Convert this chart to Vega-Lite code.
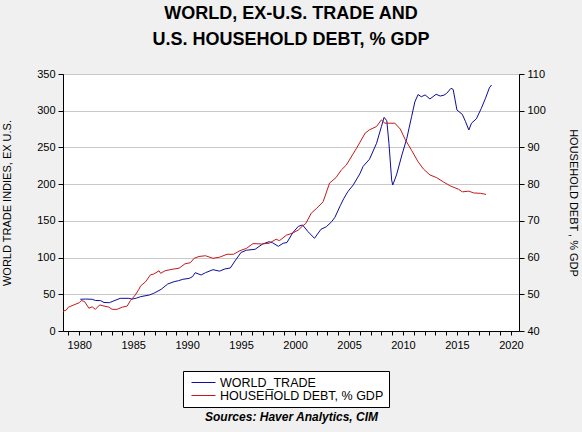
{
  "$schema": "https://vega.github.io/schema/vega-lite/v6.json",
  "width": 456,
  "height": 257,
  "autosize": {"type": "none"},
  "padding": {"left": 63, "top": 74, "right": 63, "bottom": 101},
  "background": "#f0f0f0",
  "title": {
    "text": ["WORLD, EX-U.S. TRADE AND", "U.S. HOUSEHOLD DEBT, % GDP"],
    "anchor": "middle",
    "frame": "group",
    "font": "Liberation Sans",
    "fontSize": 18,
    "fontWeight": "bold",
    "lineHeight": 26,
    "color": "#000000",
    "offset": 19
  },
  "data": {
    "values": [
      {"series": "WORLD_TRADE", "year": 1980.1, "value": 43.2},
      {"series": "WORLD_TRADE", "year": 1980.6, "value": 43.5},
      {"series": "WORLD_TRADE", "year": 1981.2, "value": 43.2},
      {"series": "WORLD_TRADE", "year": 1981.5, "value": 41.6},
      {"series": "WORLD_TRADE", "year": 1982.0, "value": 41.3},
      {"series": "WORLD_TRADE", "year": 1982.3, "value": 38.8},
      {"series": "WORLD_TRADE", "year": 1982.8, "value": 38.6},
      {"series": "WORLD_TRADE", "year": 1983.2, "value": 41.0},
      {"series": "WORLD_TRADE", "year": 1983.8, "value": 44.5},
      {"series": "WORLD_TRADE", "year": 1984.6, "value": 44.5},
      {"series": "WORLD_TRADE", "year": 1984.9, "value": 43.4},
      {"series": "WORLD_TRADE", "year": 1985.3, "value": 44.8},
      {"series": "WORLD_TRADE", "year": 1985.7, "value": 46.8},
      {"series": "WORLD_TRADE", "year": 1986.5, "value": 49.0},
      {"series": "WORLD_TRADE", "year": 1986.9, "value": 51.3},
      {"series": "WORLD_TRADE", "year": 1987.6, "value": 56.8},
      {"series": "WORLD_TRADE", "year": 1988.2, "value": 64.0},
      {"series": "WORLD_TRADE", "year": 1988.8, "value": 67.2},
      {"series": "WORLD_TRADE", "year": 1989.2, "value": 68.5},
      {"series": "WORLD_TRADE", "year": 1989.6, "value": 70.4},
      {"series": "WORLD_TRADE", "year": 1990.2, "value": 71.7},
      {"series": "WORLD_TRADE", "year": 1990.5, "value": 74.0},
      {"series": "WORLD_TRADE", "year": 1990.75, "value": 79.4},
      {"series": "WORLD_TRADE", "year": 1991.3, "value": 76.3},
      {"series": "WORLD_TRADE", "year": 1991.7, "value": 79.4},
      {"series": "WORLD_TRADE", "year": 1992.4, "value": 83.5},
      {"series": "WORLD_TRADE", "year": 1993.0, "value": 81.5},
      {"series": "WORLD_TRADE", "year": 1993.5, "value": 84.5},
      {"series": "WORLD_TRADE", "year": 1994.0, "value": 85.8},
      {"series": "WORLD_TRADE", "year": 1994.5, "value": 96.7},
      {"series": "WORLD_TRADE", "year": 1995.0, "value": 107.0},
      {"series": "WORLD_TRADE", "year": 1995.5, "value": 110.0},
      {"series": "WORLD_TRADE", "year": 1996.3, "value": 111.3},
      {"series": "WORLD_TRADE", "year": 1997.0, "value": 118.5},
      {"series": "WORLD_TRADE", "year": 1997.6, "value": 121.6},
      {"series": "WORLD_TRADE", "year": 1997.9, "value": 120.3},
      {"series": "WORLD_TRADE", "year": 1998.45, "value": 115.3},
      {"series": "WORLD_TRADE", "year": 1998.9, "value": 119.5},
      {"series": "WORLD_TRADE", "year": 1999.25, "value": 120.5},
      {"series": "WORLD_TRADE", "year": 1999.8, "value": 134.0},
      {"series": "WORLD_TRADE", "year": 2000.3, "value": 142.5},
      {"series": "WORLD_TRADE", "year": 2000.7, "value": 144.4},
      {"series": "WORLD_TRADE", "year": 2001.2, "value": 135.3},
      {"series": "WORLD_TRADE", "year": 2001.8, "value": 126.2},
      {"series": "WORLD_TRADE", "year": 2002.4, "value": 138.5},
      {"series": "WORLD_TRADE", "year": 2002.9, "value": 142.0},
      {"series": "WORLD_TRADE", "year": 2003.4, "value": 149.0},
      {"series": "WORLD_TRADE", "year": 2003.7, "value": 155.0},
      {"series": "WORLD_TRADE", "year": 2004.2, "value": 171.0},
      {"series": "WORLD_TRADE", "year": 2004.5, "value": 180.0},
      {"series": "WORLD_TRADE", "year": 2004.9, "value": 190.0},
      {"series": "WORLD_TRADE", "year": 2005.4, "value": 199.0},
      {"series": "WORLD_TRADE", "year": 2006.0, "value": 214.0},
      {"series": "WORLD_TRADE", "year": 2006.3, "value": 224.0},
      {"series": "WORLD_TRADE", "year": 2006.9, "value": 234.0},
      {"series": "WORLD_TRADE", "year": 2007.55, "value": 255.6},
      {"series": "WORLD_TRADE", "year": 2008.0, "value": 278.3},
      {"series": "WORLD_TRADE", "year": 2008.25, "value": 291.0},
      {"series": "WORLD_TRADE", "year": 2008.5, "value": 286.4},
      {"series": "WORLD_TRADE", "year": 2008.7, "value": 255.6},
      {"series": "WORLD_TRADE", "year": 2008.95, "value": 205.7},
      {"series": "WORLD_TRADE", "year": 2009.05, "value": 198.8},
      {"series": "WORLD_TRADE", "year": 2009.4, "value": 212.5},
      {"series": "WORLD_TRADE", "year": 2009.9, "value": 239.7},
      {"series": "WORLD_TRADE", "year": 2010.35, "value": 262.0},
      {"series": "WORLD_TRADE", "year": 2010.8, "value": 292.0},
      {"series": "WORLD_TRADE", "year": 2011.1, "value": 312.0},
      {"series": "WORLD_TRADE", "year": 2011.4, "value": 322.0},
      {"series": "WORLD_TRADE", "year": 2011.7, "value": 319.0},
      {"series": "WORLD_TRADE", "year": 2012.05, "value": 321.5},
      {"series": "WORLD_TRADE", "year": 2012.5, "value": 316.0},
      {"series": "WORLD_TRADE", "year": 2013.07, "value": 322.4},
      {"series": "WORLD_TRADE", "year": 2013.45, "value": 320.0},
      {"series": "WORLD_TRADE", "year": 2013.8, "value": 321.2},
      {"series": "WORLD_TRADE", "year": 2014.05, "value": 323.7},
      {"series": "WORLD_TRADE", "year": 2014.45, "value": 330.5},
      {"series": "WORLD_TRADE", "year": 2014.65, "value": 329.0},
      {"series": "WORLD_TRADE", "year": 2015.0, "value": 301.0},
      {"series": "WORLD_TRADE", "year": 2015.5, "value": 295.0},
      {"series": "WORLD_TRADE", "year": 2015.8, "value": 285.0},
      {"series": "WORLD_TRADE", "year": 2016.1, "value": 273.8},
      {"series": "WORLD_TRADE", "year": 2016.35, "value": 283.0},
      {"series": "WORLD_TRADE", "year": 2016.8, "value": 289.0},
      {"series": "WORLD_TRADE", "year": 2017.25, "value": 303.0},
      {"series": "WORLD_TRADE", "year": 2017.65, "value": 317.0},
      {"series": "WORLD_TRADE", "year": 2018.0, "value": 331.0},
      {"series": "WORLD_TRADE", "year": 2018.2, "value": 335.0},
      {"series": "HOUSEHOLD DEBT, % GDP", "year": 1978.5, "value": 45.4},
      {"series": "HOUSEHOLD DEBT, % GDP", "year": 1978.8, "value": 45.7},
      {"series": "HOUSEHOLD DEBT, % GDP", "year": 1979.0, "value": 46.5},
      {"series": "HOUSEHOLD DEBT, % GDP", "year": 1979.5, "value": 47.1},
      {"series": "HOUSEHOLD DEBT, % GDP", "year": 1980.0, "value": 47.7},
      {"series": "HOUSEHOLD DEBT, % GDP", "year": 1980.2, "value": 48.3},
      {"series": "HOUSEHOLD DEBT, % GDP", "year": 1980.5, "value": 48.0},
      {"series": "HOUSEHOLD DEBT, % GDP", "year": 1980.9, "value": 46.2},
      {"series": "HOUSEHOLD DEBT, % GDP", "year": 1981.2, "value": 46.6},
      {"series": "HOUSEHOLD DEBT, % GDP", "year": 1981.5, "value": 45.9},
      {"series": "HOUSEHOLD DEBT, % GDP", "year": 1981.9, "value": 47.1},
      {"series": "HOUSEHOLD DEBT, % GDP", "year": 1982.3, "value": 46.8},
      {"series": "HOUSEHOLD DEBT, % GDP", "year": 1982.75, "value": 46.5},
      {"series": "HOUSEHOLD DEBT, % GDP", "year": 1983.05, "value": 45.9},
      {"series": "HOUSEHOLD DEBT, % GDP", "year": 1983.5, "value": 45.9},
      {"series": "HOUSEHOLD DEBT, % GDP", "year": 1984.0, "value": 46.5},
      {"series": "HOUSEHOLD DEBT, % GDP", "year": 1984.45, "value": 46.8},
      {"series": "HOUSEHOLD DEBT, % GDP", "year": 1984.75, "value": 48.3},
      {"series": "HOUSEHOLD DEBT, % GDP", "year": 1985.2, "value": 49.8},
      {"series": "HOUSEHOLD DEBT, % GDP", "year": 1985.5, "value": 51.2},
      {"series": "HOUSEHOLD DEBT, % GDP", "year": 1985.7, "value": 52.3},
      {"series": "HOUSEHOLD DEBT, % GDP", "year": 1986.15, "value": 53.4},
      {"series": "HOUSEHOLD DEBT, % GDP", "year": 1986.6, "value": 55.3},
      {"series": "HOUSEHOLD DEBT, % GDP", "year": 1986.9, "value": 55.5},
      {"series": "HOUSEHOLD DEBT, % GDP", "year": 1987.4, "value": 56.4},
      {"series": "HOUSEHOLD DEBT, % GDP", "year": 1987.55, "value": 55.7},
      {"series": "HOUSEHOLD DEBT, % GDP", "year": 1987.95, "value": 56.4},
      {"series": "HOUSEHOLD DEBT, % GDP", "year": 1988.6, "value": 56.8},
      {"series": "HOUSEHOLD DEBT, % GDP", "year": 1989.25, "value": 57.1},
      {"series": "HOUSEHOLD DEBT, % GDP", "year": 1989.8, "value": 58.3},
      {"series": "HOUSEHOLD DEBT, % GDP", "year": 1990.3, "value": 58.6},
      {"series": "HOUSEHOLD DEBT, % GDP", "year": 1990.65, "value": 59.8},
      {"series": "HOUSEHOLD DEBT, % GDP", "year": 1991.1, "value": 60.3},
      {"series": "HOUSEHOLD DEBT, % GDP", "year": 1991.7, "value": 60.5},
      {"series": "HOUSEHOLD DEBT, % GDP", "year": 1992.4, "value": 59.8},
      {"series": "HOUSEHOLD DEBT, % GDP", "year": 1993.0, "value": 60.1},
      {"series": "HOUSEHOLD DEBT, % GDP", "year": 1993.7, "value": 60.9},
      {"series": "HOUSEHOLD DEBT, % GDP", "year": 1994.3, "value": 60.9},
      {"series": "HOUSEHOLD DEBT, % GDP", "year": 1994.9, "value": 61.9},
      {"series": "HOUSEHOLD DEBT, % GDP", "year": 1995.5, "value": 62.5},
      {"series": "HOUSEHOLD DEBT, % GDP", "year": 1996.1, "value": 63.8},
      {"series": "HOUSEHOLD DEBT, % GDP", "year": 1996.9, "value": 63.7},
      {"series": "HOUSEHOLD DEBT, % GDP", "year": 1997.6, "value": 63.9},
      {"series": "HOUSEHOLD DEBT, % GDP", "year": 1998.25, "value": 65.0},
      {"series": "HOUSEHOLD DEBT, % GDP", "year": 1998.55, "value": 64.6},
      {"series": "HOUSEHOLD DEBT, % GDP", "year": 1999.2, "value": 66.1},
      {"series": "HOUSEHOLD DEBT, % GDP", "year": 1999.8, "value": 66.7},
      {"series": "HOUSEHOLD DEBT, % GDP", "year": 2000.3, "value": 67.5},
      {"series": "HOUSEHOLD DEBT, % GDP", "year": 2000.7, "value": 68.6},
      {"series": "HOUSEHOLD DEBT, % GDP", "year": 2001.0, "value": 69.3},
      {"series": "HOUSEHOLD DEBT, % GDP", "year": 2001.5, "value": 72.1},
      {"series": "HOUSEHOLD DEBT, % GDP", "year": 2002.0, "value": 73.4},
      {"series": "HOUSEHOLD DEBT, % GDP", "year": 2002.6, "value": 75.2},
      {"series": "HOUSEHOLD DEBT, % GDP", "year": 2003.2, "value": 80.3},
      {"series": "HOUSEHOLD DEBT, % GDP", "year": 2003.8, "value": 81.8},
      {"series": "HOUSEHOLD DEBT, % GDP", "year": 2004.3, "value": 83.9},
      {"series": "HOUSEHOLD DEBT, % GDP", "year": 2004.75, "value": 85.2},
      {"series": "HOUSEHOLD DEBT, % GDP", "year": 2005.7, "value": 89.8},
      {"series": "HOUSEHOLD DEBT, % GDP", "year": 2006.5, "value": 93.9},
      {"series": "HOUSEHOLD DEBT, % GDP", "year": 2006.9, "value": 94.8},
      {"series": "HOUSEHOLD DEBT, % GDP", "year": 2007.55, "value": 95.7},
      {"series": "HOUSEHOLD DEBT, % GDP", "year": 2008.0, "value": 97.5},
      {"series": "HOUSEHOLD DEBT, % GDP", "year": 2008.2, "value": 97.0},
      {"series": "HOUSEHOLD DEBT, % GDP", "year": 2008.3, "value": 96.6},
      {"series": "HOUSEHOLD DEBT, % GDP", "year": 2009.25, "value": 96.6},
      {"series": "HOUSEHOLD DEBT, % GDP", "year": 2009.75, "value": 95.0},
      {"series": "HOUSEHOLD DEBT, % GDP", "year": 2010.2, "value": 92.2},
      {"series": "HOUSEHOLD DEBT, % GDP", "year": 2010.8, "value": 89.2},
      {"series": "HOUSEHOLD DEBT, % GDP", "year": 2011.4, "value": 86.1},
      {"series": "HOUSEHOLD DEBT, % GDP", "year": 2011.9, "value": 84.1},
      {"series": "HOUSEHOLD DEBT, % GDP", "year": 2012.5, "value": 82.5},
      {"series": "HOUSEHOLD DEBT, % GDP", "year": 2013.1, "value": 81.8},
      {"series": "HOUSEHOLD DEBT, % GDP", "year": 2013.75, "value": 80.6},
      {"series": "HOUSEHOLD DEBT, % GDP", "year": 2014.4, "value": 79.5},
      {"series": "HOUSEHOLD DEBT, % GDP", "year": 2015.15, "value": 78.6},
      {"series": "HOUSEHOLD DEBT, % GDP", "year": 2015.5, "value": 77.9},
      {"series": "HOUSEHOLD DEBT, % GDP", "year": 2016.1, "value": 78.1},
      {"series": "HOUSEHOLD DEBT, % GDP", "year": 2016.55, "value": 77.6},
      {"series": "HOUSEHOLD DEBT, % GDP", "year": 2017.2, "value": 77.5},
      {"series": "HOUSEHOLD DEBT, % GDP", "year": 2017.7, "value": 77.2}
    ]
  },
  "encoding": {
    "x": {
      "field": "year",
      "type": "quantitative",
      "scale": {"domain": [1978.5, 2020.75], "nice": false, "zero": false},
      "axis": {
        "title": "Sources:  Haver Analytics, CIM",
        "titleFont": "Liberation Sans",
        "titleFontSize": 12,
        "titleFontWeight": "bold",
        "titleFontStyle": "italic",
        "titlePadding": 61,
        "grid": false,
        "values": [1979, 1980, 1981, 1982, 1983, 1984, 1985, 1986, 1987, 1988, 1989, 1990, 1991, 1992, 1993, 1994, 1995, 1996, 1997, 1998, 1999, 2000, 2001, 2002, 2003, 2004, 2005, 2006, 2007, 2008, 2009, 2010, 2011, 2012, 2013, 2014, 2015, 2016, 2017, 2018, 2019, 2020],
        "labelExpr": "datum.value % 5 == 0 ? format(datum.value, 'd') : ''",
        "tickSize": 4,
        "labelPadding": 4
      }
    },
    "color": {
      "field": "series",
      "type": "nominal",
      "scale": {
        "domain": ["WORLD_TRADE", "HOUSEHOLD DEBT, % GDP"],
        "range": ["#0c0c9e", "#c41a1a"]
      },
      "legend": {
        "title": null,
        "orient": "none",
        "legendX": 120,
        "legendY": 297,
        "direction": "vertical",
        "symbolType": "M-0.5,0H3.5",
        "symbolSize": 144,
        "symbolStrokeWidth": 1,
        "labelFont": "Liberation Sans",
        "labelFontSize": 12.5,
        "labelColor": "#000000",
        "labelOffset": 19,
        "rowPadding": 0,
        "padding": 5,
        "strokeColor": "#000000",
        "fillColor": "#ffffff",
        "labelLimit": 300
      }
    }
  },
  "layer": [
    {
      "transform": [{"filter": "datum.series == 'WORLD_TRADE'"}],
      "mark": {"type": "line", "strokeWidth": 1},
      "encoding": {
        "y": {
          "field": "value",
          "type": "quantitative",
          "scale": {"domain": [0, 350], "nice": false},
          "axis": {
            "orient": "left",
            "title": "WORLD TRADE INDIES, EX U.S.",
            "values": [0, 50, 100, 150, 200, 250, 300, 350],
            "grid": true,
            "gridColor": "#c8c8c8",
            "tickSize": 5,
            "labelPadding": 3,
            "titlePadding": 24
          }
        }
      }
    },
    {
      "transform": [{"filter": "datum.series == 'HOUSEHOLD DEBT, % GDP'"}],
      "mark": {"type": "line", "strokeWidth": 1},
      "encoding": {
        "y": {
          "field": "value",
          "type": "quantitative",
          "scale": {"domain": [40, 110], "nice": false, "zero": false},
          "axis": {
            "orient": "right",
            "title": "HOUSEHOLD DEBT , % GDP",
            "values": [40, 50, 60, 70, 80, 90, 100, 110],
            "grid": false,
            "tickSize": 5,
            "labelPadding": 3,
            "titlePadding": 22
          }
        }
      }
    }
  ],
  "resolve": {"scale": {"y": "independent"}},
  "config": {
    "view": {"stroke": "#000000", "strokeWidth": 1, "fill": "#ffffff"},
    "axis": {
      "domainColor": "#000000",
      "tickColor": "#000000",
      "labelColor": "#000000",
      "titleColor": "#000000",
      "labelFont": "Liberation Sans",
      "labelFontSize": 11,
      "titleFont": "Liberation Sans",
      "titleFontSize": 11,
      "titleFontWeight": "normal"
    }
  }
}
